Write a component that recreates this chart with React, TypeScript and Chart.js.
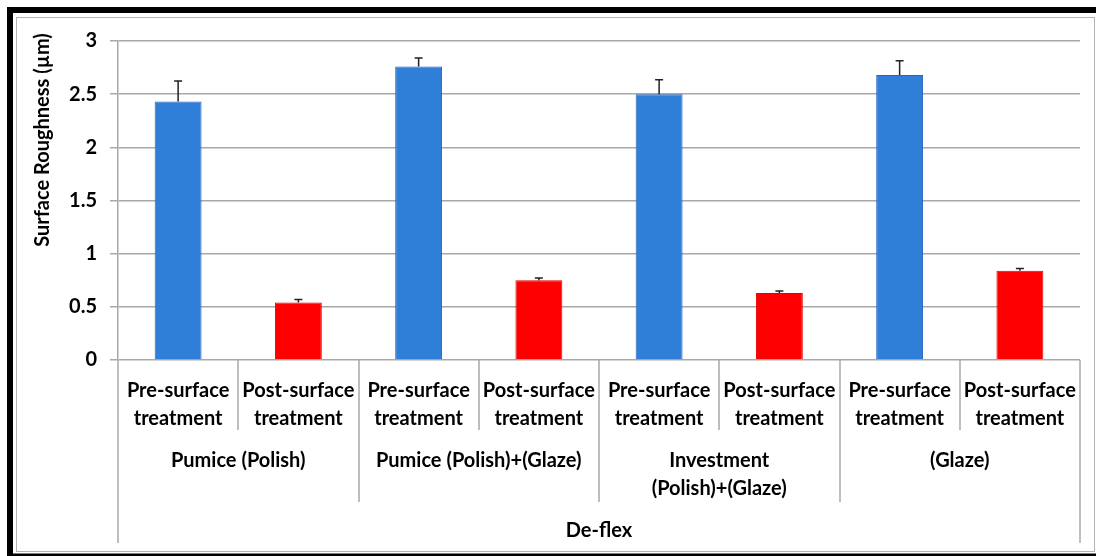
import React, { useEffect, useRef } from "react";
import { Chart, registerables } from "chart.js";

Chart.register(...registerables);

// ---- Data ----
const groupLabels: string[][] = [
  ["Pumice (Polish)"],
  ["Pumice (Polish)+(Glaze)"],
  ["Investment", "(Polish)+(Glaze)"],
  ["(Glaze)"],
];
const stageLabels: string[][] = [
  ["Pre-surface", "treatment"],
  ["Post-surface", "treatment"],
];
const outerLabel = "De-flex";
const yAxisTitle = "Surface Roughness (µm)";

const preValues = [2.43, 2.76, 2.5, 2.68];
const preErrors = [0.195, 0.08, 0.135, 0.135];
const postValues = [0.54, 0.75, 0.63, 0.84];
const postErrors = [0.03, 0.02, 0.02, 0.02];

const yMin = 0;
const yMax = 3;
const yStep = 0.5;

const BLUE = "#2F7FD8";
const BLUE_BORDER = "#2463BE";
const RED = "#FF0000";
const RED_BORDER = "#E80000";
const GRID = "#a8a8a8";
const FONT = "Lato, 'Open Sans', 'DejaVu Sans', sans-serif";

export default function App() {
  const ref = useRef<HTMLCanvasElement | null>(null);

  useEffect(() => {
    document.body.style.margin = "0";
    const canvas = ref.current;
    if (!canvas) return;

    const labels: string[][] = [];
    const values: number[] = [];
    const errors: number[] = [];
    const colors: string[] = [];
    const borders: string[] = [];
    groupLabels.forEach((_, g) => {
      labels.push(stageLabels[0]);
      values.push(preValues[g]);
      errors.push(preErrors[g]);
      colors.push(BLUE);
      borders.push(BLUE_BORDER);
      labels.push(stageLabels[1]);
      values.push(postValues[g]);
      errors.push(postErrors[g]);
      colors.push(RED);
      borders.push(RED_BORDER);
    });

    const framePlugin = {
      id: "frame",
      beforeDraw(chart: any) {
        const ctx = chart.ctx;
        const W = chart.width;
        const H = chart.height;
        ctx.save();
        ctx.fillStyle = "#ffffff";
        ctx.fillRect(0, 0, W, H);
        // black outer frame
        ctx.fillStyle = "#000000";
        ctx.fillRect(7, 7, W - 7, 6);
        ctx.fillRect(7, 7, 6, H - 7);
        ctx.fillRect(7, H - 2.5, W - 7, 3);
        // thin gray inner frame
        ctx.strokeStyle = "#b4b4b4";
        ctx.lineWidth = 1;
        ctx.strokeRect(16.5, 17.5, W - 18, H - 22);
        ctx.restore();
      },
    };

    const overlayPlugin = {
      id: "overlay",
      afterDatasetsDraw(chart: any) {
        const ctx = chart.ctx;
        const y = chart.scales.y;
        const meta = chart.getDatasetMeta(0);
        ctx.save();
        ctx.strokeStyle = "#222222";
        ctx.lineWidth = 1.5;
        meta.data.forEach((el: any, i: number) => {
          const top = y.getPixelForValue(values[i] + errors[i]);
          ctx.beginPath();
          ctx.moveTo(el.x, el.y);
          ctx.lineTo(el.x, top);
          ctx.moveTo(el.x - 4, top);
          ctx.lineTo(el.x + 4, top);
          ctx.stroke();
        });
        ctx.restore();
      },
      afterDraw(chart: any) {
        const ctx = chart.ctx;
        const x = chart.scales.x;
        const area = chart.chartArea;
        const n = labels.length;
        const cw = (area.right - area.left) / n;
        const base = area.bottom;
        ctx.save();
        // category separators
        ctx.strokeStyle = GRID;
        ctx.lineWidth = 1.5;
        for (let i = 0; i <= n; i++) {
          const bx = Math.round(x.getPixelForValue(Math.min(i, n - 1)) + (i === n ? cw / 2 : -cw / 2));
          let len = 70;
          if (i === 0 || i === n) len = 183;
          else if (i % 2 === 0) len = 142;
          ctx.beginPath();
          ctx.moveTo(bx, base);
          ctx.lineTo(bx, base + len);
          ctx.stroke();
        }
        // group labels
        ctx.fillStyle = "#000000";
        ctx.font = `bold 20px ${FONT}`;
        ctx.textAlign = "center";
        ctx.textBaseline = "middle";
        groupLabels.forEach((lines, g) => {
          const cx = (x.getPixelForValue(2 * g) + x.getPixelForValue(2 * g + 1)) / 2;
          lines.forEach((ln, k) => {
            ctx.fillText(ln, cx, base + 101 + k * 28);
          });
        });
        ctx.fillText(outerLabel, (area.left + area.right) / 2, base + 171);
        // y title
        ctx.translate(43, 140);
        ctx.rotate(-Math.PI / 2);
        ctx.font = `bold 20px ${FONT}`;
        ctx.fillText(yAxisTitle, 0, 0);
        ctx.restore();
      },
    };

    const chart = new Chart(canvas, {
      type: "bar",
      data: {
        labels,
        datasets: [
          {
            data: values,
            backgroundColor: colors,
            borderColor: borders,
            borderWidth: 1,
            barPercentage: 0.39,
            categoryPercentage: 1,
          },
        ],
      },
      options: {
        responsive: false,
        animation: false,
        devicePixelRatio: 1,
        layout: { padding: { left: 0, top: 41, right: 16, bottom: 0 } },
        plugins: {
          legend: { display: false },
          tooltip: { enabled: false },
        },
        scales: {
          x: {
            grid: { display: false },
            border: { display: false },
            ticks: {
              color: "#000000",
              font: { family: FONT, size: 20, weight: "bold", lineHeight: 1.4 },
              padding: 9,
              maxRotation: 0,
              autoSkip: false,
            },
            afterFit: (s: any) => {
              s.height = 196;
            },
          },
          y: {
            min: yMin,
            max: yMax,
            grid: { color: GRID, lineWidth: 1.5, tickLength: 8 },
            border: { display: true, color: GRID, width: 1.5 },
            ticks: {
              stepSize: yStep,
              color: "#000000",
              padding: 13,
              font: { family: FONT, size: 20, weight: "bold" },
              callback: (v: any) => String(Number(v)),
            },
            afterFit: (s: any) => {
              s.width = 118;
            },
          },
        },
      },
      plugins: [framePlugin, overlayPlugin],
    } as any);

    return () => chart.destroy();
  }, []);

  return (
    <div style={{ position: "fixed", left: 0, top: 0, width: 1096, height: 556 }}>
      <canvas ref={ref} width={1096} height={556} />
    </div>
  );
}
